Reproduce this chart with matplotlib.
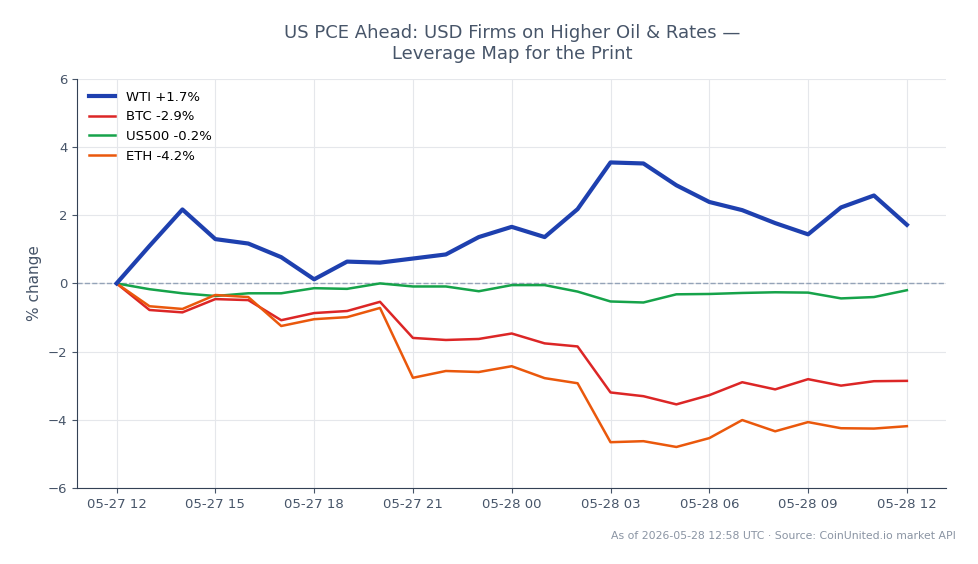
import matplotlib
matplotlib.use("Agg")
import matplotlib.pyplot as plt
import matplotlib.dates as mdates
import pandas as pd

# hourly snapshots, % change from first print
times = pd.date_range("2026-05-27 12:00", "2026-05-28 12:00", freq="h")

wti = [0.0, 1.10, 2.17, 1.30, 1.17, 0.77, 0.12, 0.64, 0.61, 0.73, 0.85, 1.36, 1.66,
       1.36, 2.18, 3.55, 3.52, 2.88, 2.39, 2.15, 1.77, 1.44, 2.23, 2.58, 1.72]
btc = [0.0, -0.78, -0.85, -0.46, -0.49, -1.08, -0.87, -0.81, -0.54, -1.60, -1.66, -1.63, -1.47,
       -1.76, -1.85, -3.20, -3.31, -3.55, -3.28, -2.90, -3.11, -2.81, -3.00, -2.87, -2.86]
us500 = [0.0, -0.17, -0.29, -0.37, -0.29, -0.29, -0.14, -0.16, 0.0, -0.09, -0.09, -0.23, -0.05,
         -0.05, -0.24, -0.53, -0.56, -0.32, -0.31, -0.28, -0.26, -0.27, -0.44, -0.40, -0.20]
eth = [0.0, -0.67, -0.75, -0.34, -0.40, -1.25, -1.05, -0.99, -0.72, -2.77, -2.57, -2.60, -2.43,
       -2.78, -2.93, -4.66, -4.63, -4.80, -4.54, -4.01, -4.34, -4.07, -4.25, -4.26, -4.19]

labels = ["WTI +1.7%", "BTC -2.9%", "US500 -0.2%", "ETH -4.2%"]

text_col = "#475569"

fig = plt.figure(figsize=(9.79, 5.64), dpi=100)
ax = fig.add_axes([0.0787, 0.135, 0.888, 0.725])

ax.plot(times, wti, color="#1e40af", lw=3, label=labels[0], zorder=4)
ax.plot(times, btc, color="#dc2626", lw=1.8, label=labels[1], zorder=3)
ax.plot(times, us500, color="#16a34a", lw=1.8, label=labels[2], zorder=3)
ax.plot(times, eth, color="#ea580c", lw=1.8, label=labels[3], zorder=3)
ax.axhline(0, color="#94a3b8", lw=1, ls="--", zorder=2)

ax.set_ylim(-6, 6)
ax.set_yticks([-6, -4, -2, 0, 2, 4, 6])
ax.set_yticklabels(["\u22126", "\u22124", "\u22122", "0", "2", "4", "6"])
ax.xaxis.set_major_locator(mdates.HourLocator(byhour=range(0, 24, 3)))
ax.xaxis.set_major_formatter(mdates.DateFormatter("%m-%d %H"))

ax.grid(True, color="#e5e7eb", lw=0.8)
ax.set_axisbelow(True)
for s in ["top", "right"]:
    ax.spines[s].set_visible(False)
for s in ["left", "bottom"]:
    ax.spines[s].set_color("#334155")
ax.tick_params(colors=text_col, labelsize=9.5)
ax.set_ylabel("% change", color=text_col, fontsize=11)

ax.legend(loc="upper left", frameon=False, fontsize=9.5)

fig.suptitle("US PCE Ahead: USD Firms on Higher Oil & Rates \u2014\nLeverage Map for the Print",
             x=0.523, y=0.957, fontsize=13, color=text_col)
fig.text(0.976, 0.045, "As of 2026-05-28 12:58 UTC \u00b7 Source: CoinUnited.io market API",
         ha="right", fontsize=7.8, color="#8a94a3")

fig.savefig("out.png", dpi=100)
